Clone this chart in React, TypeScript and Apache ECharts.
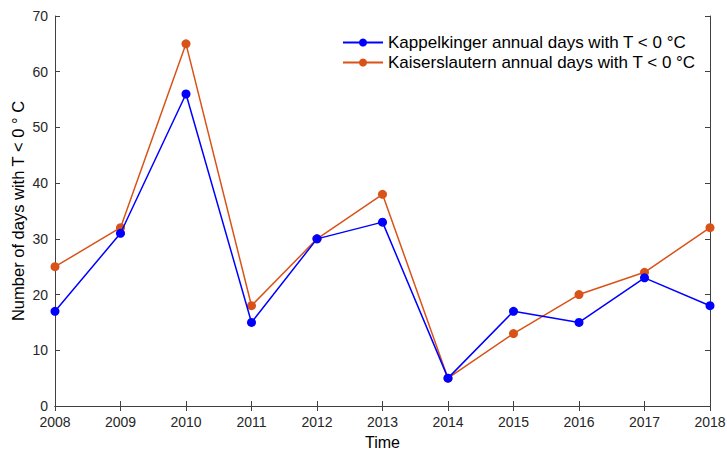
import React, { useEffect, useRef } from "react";
import * as echarts from "echarts";

const years = [2008, 2009, 2010, 2011, 2012, 2013, 2014, 2015, 2016, 2017, 2018];
const kappelkinger = [17, 31, 56, 15, 30, 33, 5, 17, 15, 23, 18];
const kaiserslautern = [25, 32, 65, 18, 30, 38, 5, 13, 20, 24, 32];
const seriesNames = [
  "Kappelkinger annual days with T < 0 °C",
  "Kaiserslautern annual days with T < 0 °C",
];

const FONT = "'Liberation Sans', Arial, Helvetica, sans-serif";
const AXIS_COLOR = "#404040";
const TEXT_COLOR = "#262626";

export default function App() {
  const ref = useRef<HTMLDivElement>(null);
  useEffect(() => {
    if (!ref.current) return;
    const chart = echarts.init(ref.current, undefined, { renderer: "svg" });
    const axisLine = { show: true, lineStyle: { color: AXIS_COLOR, width: 1 } };
    const tick = { show: true, inside: true, length: 5, lineStyle: { color: AXIS_COLOR } };
    chart.setOption({
      animation: false,
      backgroundColor: "#ffffff",
      textStyle: { fontFamily: FONT },
      grid: {
        left: 55,
        right: 17,
        top: 16,
        bottom: 44,
        containLabel: false,
        outerBoundsMode: "none",
      },
      legend: {
        orient: "vertical",
        left: 337,
        top: 29,
        itemWidth: 40,
        itemHeight: 10,
        itemGap: 3,
        textStyle: { fontSize: 17, color: "#000000", fontFamily: FONT },
        data: seriesNames,
      },
      xAxis: [
        {
          type: "value",
          min: 2008,
          max: 2018,
          interval: 1,
          position: "bottom",
          name: "Time",
          nameLocation: "middle",
          nameGap: 28,
          nameTextStyle: { fontSize: 16, color: "#000000", fontFamily: FONT },
          axisLine,
          axisTick: tick,
          splitLine: { show: false },
          axisLabel: {
            fontSize: 14,
            color: TEXT_COLOR,
            margin: 9,
            formatter: (v: number) => String(v),
          },
        },
        {
          type: "value",
          min: 2008,
          max: 2018,
          interval: 1,
          position: "top",
          axisLine,
          axisTick: tick,
          splitLine: { show: false },
          axisLabel: { show: false },
        },
      ],
      yAxis: [
        {
          type: "value",
          min: 0,
          max: 70,
          interval: 10,
          position: "left",
          name: "Number of days with T < 0 ° C",
          nameLocation: "middle",
          nameGap: 29,
          nameMoveOverlap: false,
          nameTextStyle: { fontSize: 16.5, color: "#000000", fontFamily: FONT },
          axisLine,
          axisTick: tick,
          splitLine: { show: false },
          axisLabel: { fontSize: 14, color: TEXT_COLOR, margin: 7 },
        },
        {
          type: "value",
          min: 0,
          max: 70,
          interval: 10,
          position: "right",
          axisLine,
          axisTick: tick,
          splitLine: { show: false },
          axisLabel: { show: false },
        },
      ],
      series: [
        {
          name: seriesNames[0],
          type: "line",
          data: years.map((y, i) => [y, kappelkinger[i]]),
          color: "#0000FF",
          symbol: "circle",
          symbolSize: 9,
          lineStyle: { width: 1.5, color: "#0000FF" },
          itemStyle: { color: "#0000FF" },
          z: 3,
        },
        {
          name: seriesNames[1],
          type: "line",
          data: years.map((y, i) => [y, kaiserslautern[i]]),
          color: "#D95319",
          symbol: "circle",
          symbolSize: 9,
          lineStyle: { width: 1.5, color: "#D95319" },
          itemStyle: { color: "#D95319" },
          z: 2,
        },
      ],
    });
    return () => chart.dispose();
  }, []);
  return <div ref={ref} style={{ width: 727, height: 450, position: "absolute", left: 0, top: 0 }} />;
}
